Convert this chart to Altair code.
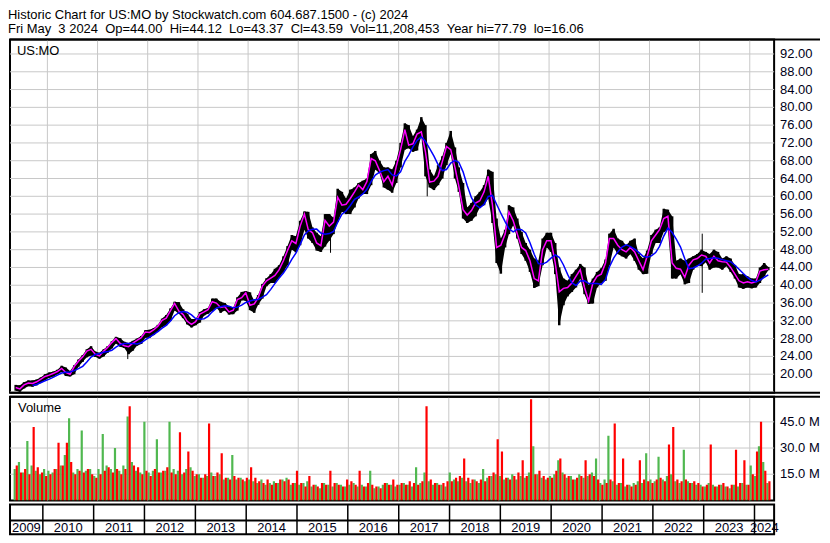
import altair as alt
import pandas as pd

TITLE_1 = "Historic Chart for US:MO by Stockwatch.com 604.687.1500 - (c) 2024"
NB = "\u00a0"
TITLE_2 = ("Fri May" + NB * 2 + "3 2024" + NB * 2 + "Op=44.00" + NB * 2 + "Hi=44.12" + NB * 2 +
           "Lo=43.37" + NB * 2 + "Cl=43.59" + NB * 2 + "Vol=11,208,453" + NB * 2 +
           "Year hi=77.79" + NB * 2 + "lo=16.06")

FIRST_MONTH = "2009-05-01"

# monthly high / low / typical close (May 2009 .. May 2024)
hi = [
    17.6, 17.5, 18.2, 18.6, 18.6, 18.8, 19.3, 20.0,
    20.4, 20.6, 21.0, 21.9, 21.5, 20.7, 22.0, 23.3, 24.3, 25.6, 26.3, 25.1,
    24.8, 25.6, 26.3, 27.4, 28.4, 28.1, 27.3, 27.0, 27.5, 28.0, 28.6, 29.9,
    30.0, 30.4, 31.1, 32.5, 33.3, 34.8, 36.3, 36.2, 34.6, 33.6, 32.4, 32.4,
    34.0, 34.6, 34.9, 37.0, 37.0, 36.3, 36.0, 35.3, 35.0, 37.3, 38.5, 38.7,
    38.4, 36.5, 37.8, 40.3, 41.6, 42.5, 43.7, 44.5, 46.5, 48.8, 51.3, 51.0,
    54.5, 56.6, 56.5, 53.0, 51.8, 51.0, 56.0, 56.0, 55.2, 61.7, 61.0, 59.5,
    61.5, 62.0, 63.0, 63.5, 64.0, 69.5, 70.2, 68.0, 66.5, 66.5, 66.0, 68.0,
    72.0, 76.4, 76.0, 73.5, 75.0, 77.8, 76.0, 66.0, 64.5, 67.0, 69.0, 72.0,
    74.7, 71.0, 66.5, 63.0, 57.5, 58.5, 60.0, 61.0, 62.5, 66.0, 65.5, 55.0,
    50.5, 52.5, 58.0, 57.5, 55.0, 52.0, 49.5, 48.0, 46.0, 45.5, 50.5, 51.8,
    51.8, 49.5, 44.0, 41.5, 41.0, 42.5, 43.5, 44.8, 44.0, 40.0, 41.5, 43.0,
    43.8, 45.8, 51.6, 52.7, 50.5, 50.0, 49.0, 50.0, 50.5, 47.0, 46.0, 47.8,
    51.3, 52.5, 53.0, 57.2, 57.0, 55.5, 45.5, 46.0, 45.5, 46.0, 46.5, 47.0,
    48.0, 47.5, 47.0, 48.0, 47.5, 46.0, 46.5, 46.0, 44.5, 42.5, 42.5, 42.0,
    41.5, 41.5, 44.0, 45.0, 44.12,
]
lo = [
    16.3, 16.06, 16.8, 17.3, 17.2, 17.5, 18.0, 18.7,
    19.2, 19.5, 20.0, 20.5, 19.6, 19.5, 20.0, 21.7, 22.8, 23.8, 24.2, 23.9,
    23.5, 24.0, 24.8, 25.8, 26.9, 26.2, 25.9, 24.5, 25.3, 26.4, 26.8, 28.2,
    28.2, 28.8, 29.6, 30.6, 31.0, 32.0, 34.3, 33.6, 32.6, 31.2, 30.5, 31.0,
    31.6, 33.2, 33.6, 34.2, 35.0, 33.8, 34.3, 33.4, 33.5, 34.3, 36.6, 36.5,
    34.4, 33.8, 35.6, 37.0, 39.8, 40.5, 40.5, 41.8, 43.0, 44.5, 48.0, 47.4,
    49.0, 52.5, 50.5, 49.5, 47.8, 47.5, 48.7, 50.0, 51.5, 54.2, 56.5, 56.0,
    56.0, 57.5, 59.5, 60.5, 60.5, 62.5, 66.0, 65.2, 62.0, 61.5, 60.8, 63.0,
    66.5, 70.5, 70.8, 70.0, 70.3, 73.5, 64.5, 62.0, 61.4, 62.5, 64.0, 67.0,
    69.5, 64.0, 61.0, 55.0, 54.0, 54.5, 55.5, 57.5, 58.0, 59.5, 54.0, 45.0,
    42.6, 48.5, 51.5, 53.5, 50.5, 47.0, 45.5, 43.0, 39.4, 39.8, 44.5, 48.5,
    47.5, 42.5, 31.0, 35.5, 37.5, 38.5, 39.5, 41.5, 38.0, 35.8, 35.9, 39.5,
    40.5, 41.0, 44.5, 48.5, 47.0, 46.5, 46.0, 47.0, 45.5, 43.5, 42.5, 42.6,
    47.0, 49.5, 49.5, 52.0, 52.5, 41.5, 41.5, 42.5, 40.2, 40.5, 43.5, 44.5,
    44.3, 45.2, 43.5, 44.0, 44.0, 43.5, 44.3, 43.0, 41.5, 39.5, 39.2, 39.5,
    39.3, 39.5, 40.5, 42.0, 43.37,
]
close = [
    17.0, 16.7, 17.6, 18.0, 17.9, 18.3, 18.9, 19.5,
    19.8, 20.2, 20.6, 21.3, 20.4, 20.0, 21.7, 22.9, 23.9, 25.2, 25.6, 24.5,
    24.1, 25.2, 26.0, 27.1, 28.0, 26.9, 26.4, 26.2, 27.0, 27.6, 28.2, 29.5,
    29.4, 30.0, 30.8, 32.1, 32.6, 34.3, 35.9, 34.2, 33.4, 31.9, 31.2, 31.8,
    33.5, 34.0, 34.5, 36.3, 36.0, 35.0, 35.2, 34.0, 34.4, 36.8, 37.2, 38.3,
    35.5, 35.8, 37.2, 39.8, 41.0, 41.6, 42.2, 43.5, 45.5, 47.8, 50.0, 49.4,
    53.3, 56.0, 52.5, 51.8, 49.5, 48.9, 54.6, 53.3, 54.2, 59.8, 58.0, 58.2,
    59.5, 61.0, 62.5, 61.5, 63.3, 68.5, 68.0, 65.8, 63.3, 64.5, 62.5, 66.8,
    70.5, 75.0, 71.5, 71.8, 74.0, 74.5, 70.0, 63.2, 63.4, 64.5, 67.8, 71.2,
    70.5, 66.5, 62.3, 57.0, 55.8, 56.8, 58.5, 59.0, 61.0, 64.5, 58.0, 48.5,
    49.0, 51.5, 56.5, 54.5, 51.5, 48.5, 47.8, 45.5, 41.5, 41.0, 48.0, 50.0,
    50.0, 45.0, 38.5, 39.3, 39.5, 40.5, 42.0, 43.5, 39.5, 36.5, 40.5, 42.0,
    42.5, 45.0, 50.5, 50.5, 49.0, 48.0, 47.5, 48.5, 47.5, 45.5, 43.5, 46.5,
    50.0, 51.3, 52.5, 55.0, 55.5, 45.0, 43.8, 43.6, 41.8, 44.5, 45.7, 46.0,
    46.8, 46.5, 45.0, 46.5, 45.5, 45.3, 45.2, 44.0, 42.5, 41.0, 40.5, 40.8,
    40.5, 40.8, 43.2, 43.5, 43.59,
]

# single-day spikes
wick_dates = ["2011-08-09", "2015-08-24", "2017-07-28", "2023-01-20"]
wick_lo = [23.4, 47.3, 60.0, 38.3]
wick_hi = [26.5, 54.0, 66.5, 51.6]

# volume, millions: up days (green) and down days (red), per month
vol_up = [
    18, 22, 16, 34, 20, 17, 15, 18,
    17, 16, 18, 20, 26, 47, 16, 18, 40, 17, 18, 14,
    18, 38, 20, 18, 30, 17, 20, 48, 22, 17, 16, 45,
    16, 17, 35, 16, 17, 45, 18, 17, 15, 18, 19, 14,
    15, 13, 14, 16, 14, 15, 12, 13, 26, 12, 13, 11,
    12, 11, 10, 12, 9, 10, 11, 10, 12, 13, 9, 10,
    9, 10, 11, 8, 9, 7, 10, 9, 8, 10, 9, 8,
    9, 10, 8, 9, 8, 17, 7, 8, 9, 10, 9, 8,
    9, 10, 9, 8, 19, 10, 16, 11, 9, 10, 9, 8,
    16, 12, 11, 13, 11, 10, 12, 10, 18, 13, 14, 15,
    14, 12, 13, 15, 12, 14, 13, 16, 31, 15, 13, 12,
    14, 15, 23, 16, 13, 14, 12, 15, 13, 14, 16, 24,
    10, 12, 37, 11, 9, 10, 8, 9, 10, 11, 10, 27,
    12, 11, 25, 12, 14, 15, 11, 10, 29, 11, 10, 9,
    9, 8, 10, 9, 8, 9, 8, 7, 9, 8, 10, 9,
    20, 14, 31, 22, 10,
]
vol_down = [
    20, 16, 18, 15, 42, 19, 16, 14,
    15, 18, 33, 20, 33, 22, 15, 17, 16, 18, 15, 13,
    15, 17, 19, 16, 18, 15, 18, 54, 20, 19, 15, 17,
    14, 18, 16, 17, 19, 16, 15, 39, 16, 28, 17, 15,
    13, 15, 44, 14, 16, 27, 13, 12, 14, 13, 12, 13,
    19, 13, 11, 10, 12, 9, 10, 12, 11, 12, 10, 17,
    10, 8, 14, 9, 8, 10, 9, 17, 10, 9, 8, 12,
    11, 9, 17, 8, 10, 9, 8, 7, 10, 9, 12, 9,
    10, 9, 11, 10, 9, 11, 54, 12, 10, 9, 10, 11,
    11, 13, 14, 24, 13, 12, 11, 12, 11, 14, 16, 35,
    28, 13, 12, 14, 16, 23, 14, 58, 15, 17, 14, 13,
    13, 17, 24, 15, 14, 12, 13, 14, 23, 15, 14, 12,
    9, 10, 12, 44, 10, 24, 9, 8, 9, 23, 12, 11,
    10, 12, 13, 11, 32, 42, 12, 11, 12, 10, 11, 10,
    8, 9, 32, 8, 9, 10, 8, 9, 29, 10, 23, 9,
    15, 28, 45, 17, 11,
]

years = list(range(2009, 2025))
price_grid = list(range(16, 93, 4))
price_labels = list(range(20, 93, 4))
vol_ticks = [15, 30, 45]

# ---------------------------------------------------------------- layout
W = 766
H_PRICE = 354
H_VOL = 104
H_AX = 30
FULL_W = W + 46
FONT = "Liberation Sans"
GRID = "#c8c8c8"
LABEL = "#000018"

X_START = pd.Timestamp("2009-05-10")
X_END = pd.Timestamp("2024-05-21")
xscale = alt.Scale(domain=[alt.DateTime(year=2009, month=5, date=10),
                           alt.DateTime(year=2024, month=5, date=21)])

n = len(close)
month_start = pd.date_range(FIRST_MONTH, periods=n, freq="MS")
price_df = pd.DataFrame({"date": month_start + pd.Timedelta(days=14),
                         "hi": hi, "lo": lo, "close": close})
wick_df = pd.DataFrame({"date": pd.to_datetime(wick_dates), "lo": wick_lo, "hi": wick_hi})
vol_df = pd.concat([
    pd.DataFrame({"date": month_start + pd.Timedelta(days=7), "vol": vol_up, "side": "up"}),
    pd.DataFrame({"date": month_start + pd.Timedelta(days=22), "vol": vol_down, "side": "down"}),
], ignore_index=True)

bounds_df = pd.DataFrame({"date": [pd.Timestamp(f"{y}-01-01") for y in years[1:]]})
mids = []
for y in years:
    s = max(X_START, pd.Timestamp(f"{y}-01-01"))
    e = min(X_END, pd.Timestamp(f"{y + 1}-01-01"))
    mids.append(s + (e - s) / 2)
labels_df = pd.DataFrame({"date": mids, "year": [str(y) for y in years]})

X_NOAXIS = alt.X("date:T", scale=xscale, axis=None)
one_row = pd.DataFrame({"k": [0]})


def side_labels(values, scale, expr):
    return alt.Chart(pd.DataFrame({"v": values})).transform_calculate(lab=expr).mark_text(
        align="left", baseline="middle", font=FONT, fontSize=13, color=LABEL
    ).encode(x=alt.value(W + 6), y=alt.Y("v:Q", scale=scale, axis=None), text="lab:N")


def full_rule(ypos):
    return alt.Chart(one_row).mark_rule(color="black", strokeWidth=2).encode(
        x=alt.value(0), x2=alt.value(FULL_W), y=alt.value(ypos))


# ---------------------------------------------------------------- price panel
pscale = alt.Scale(domain=[15.84, 95.24], nice=False, zero=False)
p_hgrid = alt.Chart(pd.DataFrame({"v": price_grid})).mark_rule(color=GRID, strokeWidth=1).encode(
    y=alt.Y("v:Q", scale=pscale, axis=None))
p_vgrid = alt.Chart(bounds_df).mark_rule(color=GRID, strokeWidth=1).encode(x=X_NOAXIS)
p_lab = side_labels(price_labels, pscale, "format(datum.v, '.2f')")

base_p = alt.Chart(price_df).encode(x=X_NOAXIS)
band = base_p.mark_area(color="black", interpolate="linear").encode(y=alt.Y("hi:Q"), y2="lo:Q")
bars = base_p.mark_bar(size=2.5, color="black").encode(y=alt.Y("hi:Q"), y2="lo:Q")
wicks = alt.Chart(wick_df).mark_rule(color="black", strokeWidth=1).encode(
    x=X_NOAXIS, y=alt.Y("hi:Q"), y2="lo:Q")
red_line = base_p.mark_line(color="#ff00ff", strokeWidth=1.5).encode(y="close:Q")
blue_line = base_p.transform_window(
    ma="mean(close)", cnt="count()", frame=[-4, 0], sort=[alt.SortField("date")]
).transform_filter("datum.cnt >= 5").mark_line(color="#0000ff", strokeWidth=1.5).encode(y="ma:Q")
sym = alt.Chart(pd.DataFrame({"t": ["US:MO"]})).mark_text(
    align="left", baseline="top", font=FONT, fontSize=13, color="black"
).encode(x=alt.value(7), y=alt.value(5), text="t:N")

price = alt.layer(p_hgrid, p_vgrid, p_lab, band, bars, wicks, red_line, blue_line, sym,
                  full_rule(0), full_rule(H_PRICE)).properties(width=W, height=H_PRICE)

# ---------------------------------------------------------------- volume panel
vscale = alt.Scale(domain=[0, 59.4], nice=False)
v_hgrid = alt.Chart(pd.DataFrame({"v": vol_ticks})).mark_rule(color=GRID, strokeWidth=1).encode(
    y=alt.Y("v:Q", scale=vscale, axis=None))
v_vgrid = alt.Chart(bounds_df).mark_rule(color=GRID, strokeWidth=1).encode(x=X_NOAXIS)
v_lab = side_labels(vol_ticks, vscale, "format(datum.v, '.1f') + ' M'")
vbars = alt.Chart(vol_df).mark_bar(size=2.2, clip=True).encode(
    x=X_NOAXIS,
    y=alt.Y("vol:Q"),
    color=alt.Color("side:N", scale=alt.Scale(domain=["up", "down"], range=["#50b850", "#ff0000"]),
                    legend=None),
)
vlabel = alt.Chart(pd.DataFrame({"t": ["Volume"]})).mark_text(
    align="left", baseline="top", font=FONT, fontSize=13, color="black"
).encode(x=alt.value(8), y=alt.value(5), text="t:N")
volume = alt.layer(v_hgrid, v_vgrid, v_lab, vbars, vlabel, full_rule(0)).properties(
    width=W, height=H_VOL)

# ---------------------------------------------------------------- year axis panel
sep = alt.Chart(bounds_df).mark_rule(color="black", strokeWidth=1.5).encode(
    x=X_NOAXIS, y=alt.value(0), y2=alt.value(H_AX))
mid_line = alt.Chart(one_row).mark_rule(color="black", strokeWidth=2).encode(
    x=alt.value(0), x2=alt.value(W), y=alt.value(16))
ylab = alt.Chart(labels_df).mark_text(font=FONT, fontSize=13, color=LABEL, baseline="middle").encode(
    x=X_NOAXIS, y=alt.value(23.5), text="year:N")
axis_panel = alt.layer(sep, mid_line, ylab).properties(width=W, height=H_AX)

chart = alt.vconcat(price, volume, axis_panel, spacing=0).resolve_scale(
    x="independent", y="independent", color="independent"
).properties(
    padding=0,
    title=alt.TitleParams(text=[TITLE_1, TITLE_2], anchor="start", font=FONT, fontSize=13,
                          fontWeight="normal", color="black", lineHeight=14, offset=2),
).configure_view(stroke="black", strokeWidth=2)

chart.save("out.html", embed_options={"renderer": "svg", "actions": False})
